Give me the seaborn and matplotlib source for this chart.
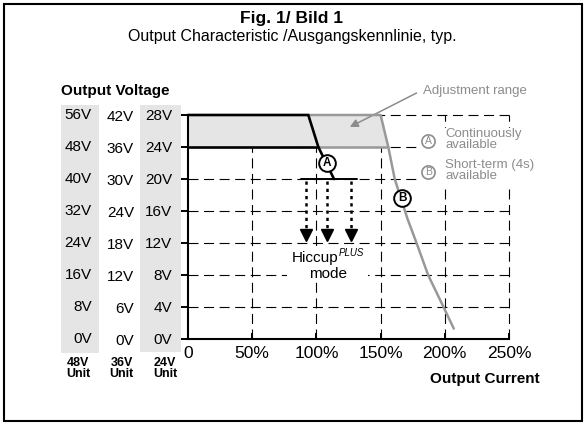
import matplotlib
matplotlib.use("Agg")
import matplotlib.pyplot as plt
from matplotlib.patches import Rectangle
from matplotlib import transforms
import seaborn as sns
import pandas as pd

# Chart values (current in %, voltage in V for the 24V unit)
volt_24 = [0, 4, 8, 12, 16, 20, 24, 28]
volt_36 = [0, 6, 12, 18, 24, 30, 36, 42]
volt_48 = [0, 8, 16, 24, 32, 40, 48, 56]
current_ticks = [0, 50, 100, 150, 200, 250]

# curve A: continuously available
curve_a_x = [0, 93.7, 101.5, 113.7]
curve_a_y = [28, 28, 24, 20]
low_a_x = [0, 101.5]
low_a_y = [24, 24]
hiccup_line_x = [87.8, 131.4]
hiccup_line_y = [20, 20]

# curve B: short-term (4s)
curve_b_x = [93.7, 150, 156, 161, 171, 178, 187, 199, 207]
curve_b_y = [28, 28, 24, 20, 15, 12, 8, 4, 1.3]
low_b_x = [101.5, 156]
low_b_y = [24, 24]

# adjustment range area
adj_x = [0, 0, 150, 156]
adj_y = [24, 28, 28, 24]

# hiccup arrows
hiccup_x = [92, 108.3, 127]
hiccup_top = 20
hiccup_tip = 13

W, H = 584, 425
GRAY = "#999999"
TXT_GRAY = "#8c8c8c"
SHADE = "#e5e5e5"

sns.set_theme(style="white")
plt.rcParams["font.family"] = ["Liberation Sans", "DejaVu Sans"]
plt.rcParams["mathtext.fontset"] = "custom"
plt.rcParams["mathtext.it"] = "Liberation Sans:italic"
plt.rcParams["text.color"] = "black"


def fx(px):
    return px / W


def fy(py):
    return 1 - py / H


fig = plt.figure(figsize=(W / 100, H / 100), dpi=100)
fig.patch.set_facecolor("white")

# outer frame
fig.add_artist(Rectangle((fx(4), fy(421)), fx(578), 417 / H, transform=fig.transFigure,
                         fill=False, ec="black", lw=1.5))

# grey columns behind the 48V and 24V scales
fig.add_artist(Rectangle((fx(61), fy(353)), fx(38), 248 / H, transform=fig.transFigure,
                         fc=SHADE, ec="none", zorder=0))
fig.add_artist(Rectangle((fx(140), fy(352)), fx(41), 247 / H, transform=fig.transFigure,
                         fc=SHADE, ec="none", zorder=0))

ax = fig.add_axes([fx(188), fy(339), fx(321), 224 / H])
ax.set_facecolor("none")
ax.set_xlim(0, 250)
ax.set_ylim(0, 28)

# dashed grid
dash = dict(color="black", lw=0.8, linestyle=(0, (9, 5)), clip_on=False, zorder=1)
for v in volt_24[1:]:
    ax.plot([0, 250], [v, v], **dash)
for c in current_ticks[1:]:
    ax.plot([c, c], [0, 28], **dash)

# adjustment range
ax.fill(adj_x, adj_y, color=SHADE, zorder=2, clip_on=False)

# white boxes behind the legend and the hiccup label
ax.add_patch(Rectangle((179, 19.2), 73, 7.2, fc="white", ec="none", zorder=3, clip_on=False))
ax.add_patch(Rectangle((77, 7.1), 63, 4.5, fc="white", ec="none", zorder=3, clip_on=False))

# curves
sns.lineplot(x=curve_b_x, y=curve_b_y, sort=False, estimator=None, color=GRAY, lw=1.8,
             ax=ax, zorder=4, clip_on=False)
sns.lineplot(x=low_b_x, y=low_b_y, sort=False, estimator=None, color=GRAY, lw=1.8,
             ax=ax, zorder=4)
sns.lineplot(x=curve_a_x, y=curve_a_y, sort=False, estimator=None, color="black", lw=1.9,
             ax=ax, zorder=5, clip_on=False)
sns.lineplot(x=low_a_x, y=low_a_y, sort=False, estimator=None, color="black", lw=1.9,
             ax=ax, zorder=5)
sns.lineplot(x=hiccup_line_x, y=hiccup_line_y, sort=False, estimator=None, color="black",
             lw=1.4, ax=ax, zorder=5)

# hiccup arrows
for hx in hiccup_x:
    ax.plot([hx, hx], [hiccup_top - 0.2, hiccup_tip + 0.5], color="black", lw=1.8,
            linestyle=(0, (1.3, 1.6)), zorder=5)
    ax.plot(hx, hiccup_tip, marker="v", ms=8, color="black", zorder=5)

# marker circles on the curves
for (mx, my, lab) in [(108.3, 22, "A"), (167, 17.6, "B")]:
    ax.plot(mx, my, "o", ms=12, mfc="white", mec="black", mew=1.4, zorder=6)
    ax.text(mx, my, lab, ha="center", va="center", fontsize=8.5, fontweight="bold", zorder=7)

# legend
for (ly, lab, txt) in [(24.75, "A", "Continuously\navailable"),
                       (20.9, "B", "Short-term (4s)\navailable")]:
    ax.plot(187, ly, "o", ms=9.5, mfc="white", mec=TXT_GRAY, mew=1.2, zorder=6, clip_on=False)
    ax.text(187, ly, lab, ha="center", va="center", fontsize=7.5, color=TXT_GRAY, zorder=7)
    ax.text(200.2, ly + 0.15, txt, ha="left", va="center", fontsize=9.5, color=TXT_GRAY,
            linespacing=0.9, zorder=7)

# adjustment range pointer
ax.annotate("", xy=(126, 26.5), xytext=(178, 30.75), annotation_clip=False,
            arrowprops=dict(arrowstyle="-|>", color=TXT_GRAY, lw=1.1, mutation_scale=12,
                            shrinkA=0, shrinkB=0))
ax.text(183, 31.0, "Adjustment range", ha="left", va="center", fontsize=9.5,
        color=TXT_GRAY, clip_on=False)

# hiccup label
ax.text(81, 9.6, "Hiccup", ha="left", va="baseline", fontsize=11, zorder=7)
ax.text(117.6, 10.4, "PLUS", ha="left", va="baseline", fontsize=7, style="italic", zorder=7)
ax.text(109, 7.66, "mode", ha="center", va="baseline", fontsize=11, zorder=7)

# axes styling
for side in ["top", "right"]:
    ax.spines[side].set_visible(False)
for side in ["left", "bottom"]:
    ax.spines[side].set_color("black")
    ax.spines[side].set_linewidth(1.5)
    ax.spines[side].set_zorder(6)

ax.set_xticks(current_ticks)
ax.set_xticklabels(["0"] + [f"{c}%" for c in current_ticks[1:]])
ax.set_xticks([0], minor=True)
ax.tick_params(axis="x", which="major", bottom=True, direction="in", length=4.5, width=1.4,
               labelsize=12.5, pad=5, colors="black")
ax.tick_params(axis="x", which="minor", bottom=True, direction="out", length=4.5, width=1.5)

ax.set_yticks(volt_24)
ax.set_yticklabels([f"{v}V" for v in volt_24])
ax.tick_params(axis="y", left=True, direction="out", length=4.7, width=1.4,
               labelsize=11, pad=6.5, colors="black")

# the 36V and 48V scales
ytr = ax.get_yaxis_transform()
ytr36 = transforms.offset_copy(ytr, fig=fig, x=0, y=-1.5, units="points")
for v24, v36, v48 in zip(volt_24, volt_36, volt_48):
    ax.text(-0.168, v24, f"{v36}V", transform=ytr36, ha="right", va="center", fontsize=11)
    ax.text(-0.300, v24, f"{v48}V", transform=ytr, ha="right", va="center", fontsize=11)

ax.set_xlabel("")
ax.set_ylabel("")

# figure texts
fig.text(0.5, fy(18), "Fig. 1/ Bild 1", ha="center", va="center", fontsize=12.5,
         fontweight="bold")
fig.text(0.5, fy(36), "Output Characteristic /Ausgangskennlinie, typ.", ha="center",
         va="center", fontsize=11.5)
fig.text(fx(61), fy(91), "Output Voltage", ha="left", va="center", fontsize=11,
         fontweight="bold")
fig.text(fx(540), fy(379), "Output Current", ha="right", va="center", fontsize=11,
         fontweight="bold")
for (ux, lab) in [(78, "48V"), (121.5, "36V"), (165, "24V")]:
    fig.text(fx(ux), fy(368.5), f"{lab}\nUnit", ha="center", va="center", fontsize=9,
             fontweight="bold", linespacing=0.95)

fig.savefig("out.png", dpi=100, facecolor="white")
